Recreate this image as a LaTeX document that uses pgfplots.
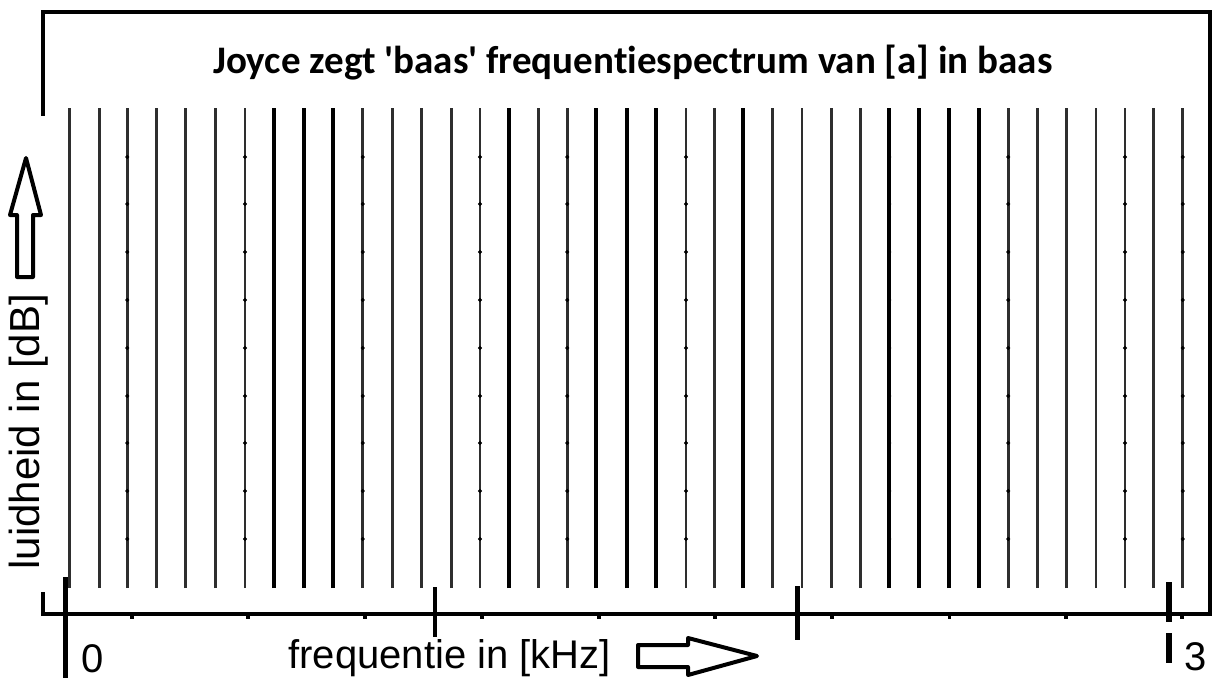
\documentclass[border=0pt]{standalone}
\usepackage{fontspec}
\setmainfont{Liberation Sans}
\newfontfamily\titlefont[Ligatures=NoCommon]{Carlito}
\usepackage{pgfplots}
\pgfplotsset{compat=1.18}
\begin{document}
\begin{tikzpicture}
\begin{axis}[name=ax, at={(0,0)}, anchor=south west, scale only axis,
  width=583.5pt, height=301pt,
  xmin=-0.06172, xmax=3.1115, ymin=-2.6, ymax=57.6,
  axis line style={draw=none}, ticks=none, clip=false]
% thin spectral lines
\addplot[ycomb, black!82, line width=1.3pt, mark=none] coordinates {
(0.0098,48) (0.0914,48) (0.1675,48) (0.2474,48) (0.3263,48) (0.4079,48) (0.4875,48)
(0.8076,48) (0.8881,48) (0.9680,48) (1.0496,48) (1.1265,48) (1.2851,48) (1.3639,48)
(1.6867,48) (1.7636,48) (1.9213,48) (2.0021,48) (2.0828,48) (2.1617,48)
(2.5630,48) (2.6419,48) (2.7219,48) (2.8015,48) (2.8803,48) (2.9573,48) (3.0372,48)};
% thick spectral lines
\addplot[ycomb, black, line width=1.9pt, mark=none] coordinates {
(0.5672,48) (0.6480,48) (0.7276,48) (1.2062,48) (1.4411,48) (1.5254,48) (1.6051,48)
(1.8425,48) (2.2394,48) (2.3210,48) (2.4018,48) (2.4834,48)};
% grid dots on lines
\addplot[only marks, mark=*, mark size=0.8pt, black] coordinates {
(0.1675,4.9) (0.1675,9.7) (0.1675,14.5) (0.1675,19.2) (0.1675,24.0) (0.1675,28.8) (0.1675,33.6) (0.1675,38.4) (0.1675,43.1)
(0.4875,4.9) (0.4875,9.7) (0.4875,14.5) (0.4875,19.2) (0.4875,24.0) (0.4875,28.8) (0.4875,33.6) (0.4875,38.4) (0.4875,43.1)
(0.8076,4.9) (0.8076,9.7) (0.8076,14.5) (0.8076,19.2) (0.8076,24.0) (0.8076,28.8) (0.8076,33.6) (0.8076,38.4) (0.8076,43.1)
(1.1265,4.9) (1.1265,9.7) (1.1265,14.5) (1.1265,19.2) (1.1265,24.0) (1.1265,28.8) (1.1265,33.6) (1.1265,38.4) (1.1265,43.1)
(1.3639,4.9) (1.3639,9.7) (1.3639,14.5) (1.3639,19.2) (1.3639,24.0) (1.3639,28.8) (1.3639,33.6) (1.3639,38.4) (1.3639,43.1)
(1.6867,4.9) (1.6867,9.7) (1.6867,14.5) (1.6867,19.2) (1.6867,24.0) (1.6867,28.8) (1.6867,33.6) (1.6867,38.4) (1.6867,43.1)
(2.2394,4.9) (2.2394,9.7) (2.2394,14.5) (2.2394,19.2) (2.2394,24.0) (2.2394,28.8) (2.2394,33.6) (2.2394,38.4) (2.2394,43.1)
(2.5630,4.9) (2.5630,9.7) (2.5630,14.5) (2.5630,19.2) (2.5630,24.0) (2.5630,28.8) (2.5630,33.6) (2.5630,38.4) (2.5630,43.1)
(2.8803,4.9) (2.8803,9.7) (2.8803,14.5) (2.8803,19.2) (2.8803,24.0) (2.8803,28.8) (2.8803,33.6) (2.8803,38.4) (2.8803,43.1)
(3.0372,4.9) (3.0372,9.7) (3.0372,14.5) (3.0372,19.2) (3.0372,24.0) (3.0372,28.8) (3.0372,33.6) (3.0372,38.4) (3.0372,43.1)};
% minor ticks below the axis line
\addplot[only marks, mark=square*, mark size=0.7pt, black] coordinates {
(0.1795,-2.9) (0.4965,-2.9) (0.8138,-2.9) (1.1311,-2.9) (1.4509,-2.9)
(1.7655,-2.9) (2.0828,-2.9) (2.4026,-2.9) (2.7199,-2.9) (3.0353,-2.9)};
% major ticks
\addplot[black, line width=2.8pt, mark=none] coordinates {(0,1.1) (0,-9.0)};
\addplot[black, line width=2.4pt, mark=none] coordinates {(1.004,0.1) (1.004,-4.9)};
\addplot[black, line width=2.4pt, mark=none] coordinates {(1.989,0.2) (1.989,-5.2)};
\addplot[black, line width=2.6pt, mark=none] coordinates {(3.0,0.6) (3.0,-3.4)};
\addplot[black, line width=3.0pt, mark=none] coordinates {(3.0,-4.5) (3.0,-7.5)};
\end{axis}
\begin{scope}[x=0.5pt, y=-0.5pt, shift={(-21.5pt,307pt)}]
% frame
\draw[line width=2.2pt, line join=miter] (43,116) -- (43,12) -- (1210,12) -- (1210,614) -- (41,614);
\draw[line width=2.2pt] (43,592) -- (43,614);
% title
\node[anchor=base, inner sep=0pt, font=\titlefont\bfseries\fontsize{19.5}{21}\selectfont] at (633,74)
  {Joyce zegt 'baas' frequentiespectrum van [a] in baas};
% axis labels
\node[anchor=base west, inner sep=0pt, font=\fontsize{20}{22}\selectfont] at (288,668.5) {frequentie in [kHz]};
\node[anchor=base west, inner sep=0pt, rotate=90, font=\fontsize{21}{23}\selectfont] at (40,570) {luidheid in [dB]};
\node[anchor=base west, inner sep=0pt, font=\fontsize{20}{22}\selectfont] at (81,672) {0};
\node[anchor=base west, inner sep=0pt, font=\fontsize{20}{22}\selectfont] at (1184,670) {3};
% arrows
\draw[line width=2pt, line join=round, fill=white] (17,277) -- (17,215) -- (10,215) -- (26,158) -- (41,215) -- (33,215) -- (33,277) -- cycle;
\draw[line width=2pt, line join=round, fill=white] (638,645) -- (688,645) -- (688,638) -- (757,656) -- (688,675) -- (688,667) -- (638,667) -- cycle;
\end{scope}
\pgfresetboundingbox
\path (-21.5pt,-33.5pt) rectangle (585pt,307pt);
\end{tikzpicture}
\end{document}
